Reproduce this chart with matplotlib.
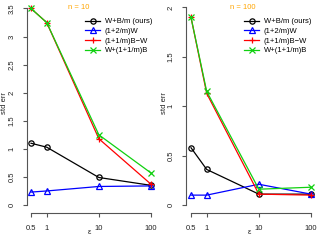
import numpy as np
import matplotlib
matplotlib.use("Agg")
import matplotlib.pyplot as plt

plt.rcParams['font.family'] = ['Liberation Sans', 'DejaVu Sans']

eps = [0.5, 1, 10, 100]
eps_labels = ["0.5", "1", "10", "100"]
series_names = ["W+B/m (ours)", "(1+2/m)W", "(1+1/m)B\u2212W", "W+(1+1/m)B"]

# n = 10
n10_ours = [1.10, 1.03, 0.49, 0.35]
n10_w = [0.23, 0.25, 0.33, 0.34]
n10_bw = [3.50, 3.25, 1.18, 0.37]
n10_b = [3.50, 3.25, 1.25, 0.57]

# n = 100
n100_ours = [0.58, 0.36, 0.11, 0.11]
n100_w = [0.10, 0.10, 0.21, 0.11]
n100_bw = [1.90, 1.13, 0.11, 0.10]
n100_b = [1.90, 1.15, 0.16, 0.18]

colors = ["black", "#0000ff", "#ff0000", "#10d010"]
markers = ["o", "^", "+", "x"]

W, H = 320, 240
FS = 5.5
fig = plt.figure(figsize=(3.2, 2.4), dpi=100)

def add_panel(ax_l, ax_r, x05, x100, y0, ytop_px, ytop_val, yticks, ylabels,
              data, title, title_xfrac, ylab_x):
    top_px, bot_px = 1, 213
    ax = fig.add_axes([ax_l / W, 1 - bot_px / H, (ax_r - ax_l) / W, (bot_px - top_px) / H])
    ppd = (x100 - x05) / (2 - np.log10(0.5))
    lo = np.log10(0.5) - (x05 - ax_l) / ppd
    hi = 2 + (ax_r - x100) / ppd
    ax.set_xscale('log')
    ax.set_xlim(10 ** lo, 10 ** hi)
    ppu = (y0 - ytop_px) / ytop_val
    ax.set_ylim(-(bot_px - y0) / ppu, ytop_val + (ytop_px - top_px) / ppu)
    for vals, c, m, nm in zip(data, colors, markers, series_names):
        ax.plot(eps, vals, color=c, marker=m, ms=3.8, mew=0.9, mfc='none',
                lw=0.9, label=nm, clip_on=False)
    for s in ['top', 'right']:
        ax.spines[s].set_visible(False)
    ax.spines['bottom'].set_bounds(0.5, 100)
    ax.spines['left'].set_bounds(yticks[0], yticks[-1])
    for s in ['bottom', 'left']:
        ax.spines[s].set_color('#555555')
        ax.spines[s].set_linewidth(0.8)
    ax.set_xticks(eps)
    ax.set_xticklabels(eps_labels)
    ax.xaxis.set_minor_locator(matplotlib.ticker.NullLocator())
    ax.set_yticks(yticks)
    ax.set_yticklabels(ylabels)
    ax.tick_params(axis='both', length=3, width=0.8, color='#555555',
                   labelsize=FS, labelcolor='#222222')
    ax.tick_params(axis='x', pad=5.5)
    ax.tick_params(axis='y', pad=5, labelrotation=90)
    for t in ax.get_yticklabels():
        t.set_va('center')
    ax.text(title_xfrac, 0.967, title, transform=ax.transAxes, color='#ffa500',
            fontsize=FS, ha='center', va='center')
    ax.text(0.49, 1 - (233 - top_px) / (bot_px - top_px), "\u03b5", transform=ax.transAxes,
            fontsize=FS, ha='center', va='center', color='#222222')
    fig.text(ylab_x / W, 1 - 103 / H, "std err", rotation=90, fontsize=FS,
             ha='center', va='center', color='#222222')
    ax.legend(loc='upper left',
              bbox_to_anchor=((85 - 27) / (ax_r - ax_l), 1 - (18 - top_px) / (bot_px - top_px)),
              frameon=False, fontsize=FS, handlelength=2.0, handletextpad=0.6,
              labelspacing=0.3, borderpad=0, borderaxespad=0, numpoints=1)
    return ax

add_panel(27, 155, 31, 151, 205, 8.5, 3.5,
          [0, 0.5, 1, 1.5, 2, 2.5, 3, 3.5], ["0", "0.5", "1", "1.5", "2", "2.5", "3", "3.5"],
          [n10_ours, n10_w, n10_bw, n10_b], "n = 10", 0.40, 5)
add_panel(186, 315, 191, 311, 205, 7.5, 2.0,
          [0, 0.5, 1, 1.5, 2], ["0", "0.5", "1", "1.5", "2"],
          [n100_ours, n100_w, n100_bw, n100_b], "n = 100", 0.44, 165)

fig.savefig("out.png", dpi=100)
